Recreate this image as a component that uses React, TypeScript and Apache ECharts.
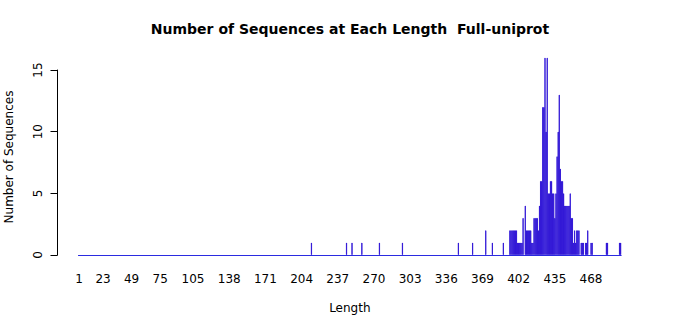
import React, { useEffect, useRef } from "react";
import * as echarts from "echarts";

// Sequence lengths (x categories run from 1 to maxLength)
const maxLength = 495;
const lengths = [
  213, 245, 250, 259, 275, 296, 347, 360, 372, 378, 388,
  394, 395, 396, 397, 398, 399, 400, 401, 402, 403, 404, 405, 406, 408,
  409, 410, 411, 412, 413, 414, 415, 416, 417, 418, 419, 420, 421, 422, 423,
  424, 425, 426, 427, 428, 429, 430, 431, 432, 433, 434, 435, 436, 437, 438,
  439, 440, 441, 442, 443, 444, 445, 446, 447, 448, 449, 450, 451, 452, 453,
  454, 455, 456, 457, 459, 460, 461, 463, 464, 465, 468, 469, 482, 483, 494, 495,
];
const counts = [
  1, 1, 1, 1, 1, 1, 1, 1, 2, 1, 1,
  2, 2, 2, 2, 2, 2, 2, 1, 1, 1, 1, 1, 3, 4,
  2, 2, 2, 2, 2, 1, 1, 3, 3, 3, 3, 2, 4, 6, 6,
  12, 12, 16, 10, 16, 5, 5, 6, 6, 5, 5, 3, 5, 8, 10,
  13, 7, 6, 6, 5, 4, 4, 4, 4, 4, 5, 3, 3, 1, 2,
  1, 2, 2, 2, 1, 1, 1, 1, 1, 2, 1, 1, 1, 1, 1, 1,
];
const xLabelValues = [1, 23, 49, 75, 105, 138, 171, 204, 237, 270, 303, 336, 369, 402, 435, 468];

const FONT = "DejaVu Sans";

export default function App() {
  const ref = useRef<HTMLDivElement>(null);
  useEffect(() => {
    const chart = echarts.init(ref.current!, null, { renderer: "svg" });
    const categories = Array.from({ length: maxLength }, (_, i) => String(i + 1));
    const countMap = new Map(lengths.map((l, i) => [l, counts[i]]));
    const values = categories.map((c) => countMap.get(Number(c)) ?? "-");
    const labelSet = new Set(xLabelValues.map(String));

    chart.setOption({
      animation: false,
      title: {
        text: "Number of Sequences at Each Length  Full-uniprot",
        left: "center",
        top: 17,
        textStyle: { fontFamily: FONT, fontSize: 14, fontWeight: "bold", color: "#000" },
      },
      grid: [
        { left: 78.45, right: 78.8, top: 50, bottom: 60, outerBoundsMode: "none" },
        { left: 57.5, width: 10, top: 70, bottom: 60, outerBoundsMode: "none" },
      ],
      xAxis: [
        {
          type: "category",
          gridIndex: 0,
          data: categories,
          axisTick: { show: false },
          axisLine: { show: true, lineStyle: { color: "#2b2be0", width: 1 } },
          axisLabel: {
            interval: (_i: number, v: string) => labelSet.has(v),
            margin: 18,
            fontFamily: FONT,
            fontSize: 12,
            color: "#000",
          },
          name: "Length",
          nameLocation: "middle",
          nameGap: 47,
          nameTextStyle: { fontFamily: FONT, fontSize: 12, color: "#000" },
        },
        { type: "value", gridIndex: 1, show: false },
      ],
      yAxis: [
        { type: "value", gridIndex: 0, min: 0, max: 16.63, show: false },
        {
          type: "value",
          gridIndex: 1,
          min: 0,
          max: 15,
          interval: 5,
          axisLine: { show: true, lineStyle: { color: "#000", width: 1 } },
          axisTick: { show: true, length: 7, lineStyle: { color: "#000" } },
          axisLabel: { rotate: 90, margin: 14, fontFamily: FONT, fontSize: 12, color: "#000" },
          splitLine: { show: false },
        },
      ],
      series: [
        {
          type: "bar",
          xAxisIndex: 0,
          yAxisIndex: 0,
          data: values,
          barWidth: "83%",
          itemStyle: { color: "#0000ff", borderColor: "#2000d0", borderWidth: 0.7 },
        },
      ],
      graphic: [
        {
          type: "text",
          x: 9,
          y: 157,
          rotation: Math.PI / 2,
          style: {
            text: "Number of Sequences",
            font: `12px "${FONT}"`,
            fill: "#000",
            align: "center",
            verticalAlign: "middle",
          },
        },
      ],
    });
    return () => chart.dispose();
  }, []);
  return (
    <div
      ref={ref}
      style={{ position: "absolute", left: 0, top: 0, width: 700, height: 315, background: "#fff" }}
    />
  );
}
